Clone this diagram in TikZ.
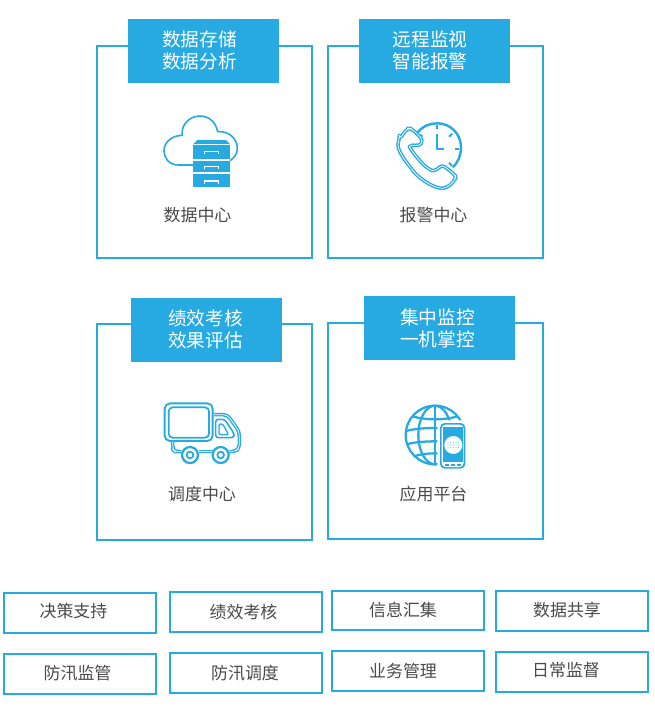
\documentclass[tikz,border=0pt]{standalone}
\usepackage{fontspec}
\usepackage{xcolor}
\newfontfamily\cjk{Noto Sans CJK SC}
\definecolor{skyblue}{HTML}{27AAE1}
\definecolor{inkgray}{HTML}{4A4A4A}
\usetikzlibrary{positioning}

\begin{document}
\begin{tikzpicture}[
  x=0.75pt, y=-0.75pt,
  frame/.style    = {rectangle, draw=skyblue, line width=1.5pt, fill=white, minimum width=161.8pt, minimum height=159.3pt},
  titlebox/.style = {rectangle, fill=skyblue, minimum width=113.25pt, minimum height=48pt},
  titletext/.style= {align=center, text=white, inner sep=0pt, font=\cjk\fontsize{14}{16.5}\selectfont},
  caption/.style  = {text=inkgray, inner sep=0pt, font=\cjk\fontsize{12.7}{15}\selectfont},
  tag/.style      = {rectangle, draw=skyblue, line width=1.5pt, fill=white, minimum width=114pt, minimum height=29.5pt},
  icon/.style     = {draw=skyblue, line width=1.5pt, line join=round},
  thinicon/.style = {draw=skyblue, line width=1pt, line join=round},
  twoline/.style  = {draw=skyblue, line width=1.05pt, double=white, double distance=0.55pt, line join=round}
]
\useasboundingbox (0,0) rectangle (654,714);
\fill[white] (0,0) rectangle (654,714);

% Frames with their title boxes
\node[frame] (store)  at (204.5,152) {};
\node[frame] (alarm)  at (435.5,152) {};
\node[frame, minimum height=162pt] (truck)  at (204.5,432) {};
\node[frame, minimum height=162pt] (app)    at (435.5,431) {};

\node[titlebox] (storehead) at (203.5,51) {};
\node[titlebox] (alarmhead) at (434.5,51) {};
\node[titlebox] (truckhead) at (206.5,330) {};
\node[titlebox] (apphead)   at (439.5,328) {};

\node[titletext] (storetext) at (199.5,50)  {数据存储\\数据分析};
\node[titletext] (alarmtext) at (430,50)    {远程监视\\智能报警};
\node[titletext] (trucktext) at (205.5,329) {绩效考核\\效果评估};
\node[titletext] (apptext)   at (437.5,328) {集中监控\\一机掌控};

\node[caption] (storecap) at (197.5,215) {数据中心};
\node[caption] (alarmcap) at (433.5,215) {报警中心};
\node[caption] (truckcap) at (202,494)   {调度中心};
\node[caption] (appcap)   at (433.5,494) {应用平台};

% Cloud and drawers
\begin{scope}[shift={(150,110)}, x=0.25pt, y=-0.25pt]
  \draw[thinicon, line width=1.2pt] (130,165) -- (85,165) .. controls (55,165) and (42,142) .. (42,122)
    .. controls (42,95) and (68,76) .. (97,76)
    .. controls (92,45) and (118,18) .. (150,18)
    .. controls (178,18) and (198,38) .. (203,65)
    .. controls (238,62) and (262,88) .. (262,115)
    .. controls (262,130) and (255,142) .. (240,152);
  \fill[skyblue] (130,102) -- (142,90) -- (228,90) -- (240,102) -- cycle;
  \fill[skyblue] (130,105) rectangle (240,147);
  \fill[skyblue] (130,152) rectangle (240,187);
  \fill[skyblue] (130,193) rectangle (240,232);
  \draw[white, line width=1.1pt] (163,133) -- (163,124) -- (205,124) -- (205,133);
  \draw[white, line width=1.1pt] (163,178) -- (163,170) -- (205,170) -- (205,178);
  \draw[white, line width=1.1pt] (163,222) -- (163,213) -- (205,213) -- (205,222);
\end{scope}

% Clock and handset
\begin{scope}[shift={(380,110)}, x=0.25pt, y=-0.25pt]
  \draw[icon, line width=1.8pt] (112,68) .. controls (130,47) and (150,40) .. (172,40)
    .. controls (212,40) and (243,72) .. (243,112)
    .. controls (243,138) and (232,160) .. (218,172);
  \draw[icon] (172,72) -- (172,118) -- (192,118);
  \draw[icon] (172,44) -- (172,58);
  \draw[icon] (225,118) -- (238,118);
  \draw[icon] (207,80) -- (216,71);
  \draw[icon] (207,158) -- (216,167);
  \draw[icon] (118,75) -- (128,78);
  \draw[twoline, rounded corners=3pt]
    (58,88) -- (82,55) -- (94,55) -- (130,90) -- (118,110) -- (97,102)
    .. controls (88,110) and (100,130) .. (118,150)
    .. controls (135,170) and (155,183) .. (172,180)
    -- (185,163) -- (226,195) -- (228,207) -- (202,233)
    .. controls (165,238) and (115,205) .. (90,170)
    .. controls (70,145) and (50,115) .. cycle;
\end{scope}

% Truck
\begin{scope}[shift={(150,390)}, x=0.25pt, y=-0.25pt]
  \draw[icon, line width=1.4pt, rounded corners=4pt] (44,40) rectangle (188,153);
  \draw[icon, line width=1.3pt, rounded corners=3pt] (56,52) rectangle (177,143);
  \draw[twoline, rounded corners=3pt] (190,74) -- (232,74) -- (268,125) -- (268,175) -- (255,185) -- (238,185);
  \draw[twoline] (188,185) -- (146,185);
  \draw[twoline, rounded corners=3pt] (68,155) -- (68,178) -- (76,185) -- (94,185);
  \draw[icon, line width=1.2pt, rounded corners=2pt] (197,88) -- (224,88) -- (252,130) -- (252,143) -- (197,143) -- cycle;
  \draw[thinicon, rounded corners=1pt] (207,102) -- (218,102) -- (236,134) -- (207,134) -- cycle;
  \draw[icon, line width=1.7pt, fill=white] (120,195) circle (24);
  \draw[icon, line width=1.3pt] (120,195) circle (10);
  \draw[icon, line width=1.7pt, fill=white] (212,195) circle (24);
  \draw[icon, line width=1.3pt] (212,195) circle (10);
\end{scope}

% Globe and phone
\begin{scope}[shift={(390,395)}, x=0.25pt, y=-0.25pt]
  \begin{scope}[line width=1.7pt, draw=skyblue]
    \draw (135,120) circle (88);
    \draw (135,120) ellipse (50 and 88);
    \draw (135,32) -- (135,208);
    \draw (68,64) .. controls (105,76) and (165,76) .. (202,64);
    \draw (48,108) .. controls (90,96) and (180,96) .. (222,108);
    \draw (50,148) .. controls (90,136) and (180,136) .. (220,148);
    \draw (72,184) .. controls (105,172) and (165,172) .. (198,184);
  \end{scope}
  \fill[white, rounded corners=4pt] (142,76) rectangle (233,228);
  \fill[skyblue, rounded corners=3.5pt] (150,84) rectangle (226,221);
  \fill[white, rounded corners=3pt] (155,89) rectangle (221,216);
  \fill[skyblue] (158,95) rectangle (218,200);
  \fill[white] (190,150) circle (27);
  \foreach \px in {174,182,190,198,206}
    \foreach \py in {142,150,158}
      \fill[skyblue!60] (\px,\py) circle (1.8);
  \fill[skyblue] (166,206) rectangle (178,212);
  \fill[skyblue] (184,206) rectangle (194,212);
  \fill[skyblue] (200,206) rectangle (212,212);
\end{scope}

% Bottom tags
\node[tag] (tagA) at (79.5,613)  {};
\node[tag] (tagB) at (245.5,612) {};
\node[tag] (tagC) at (407.5,610.5) {};
\node[tag] (tagD) at (571.5,611) {};
\node[tag] (tagE) at (79.5,674)  {};
\node[tag] (tagF) at (245.5,673) {};
\node[tag] (tagG) at (407.5,671) {};
\node[tag] (tagH) at (571.5,672) {};

\node[caption] (textA) at (73.5,611)  {决策支持};
\node[caption] (textB) at (243.5,612) {绩效考核};
\node[caption] (textC) at (403,609.5) {信息汇集};
\node[caption] (textD) at (567,610.5) {数据共享};
\node[caption] (textE) at (77.5,673)  {防汛监管};
\node[caption] (textF) at (245,673)   {防汛调度};
\node[caption] (textG) at (403,671.5) {业务管理};
\node[caption] (textH) at (566,670.5) {日常监督};

\end{tikzpicture}
\end{document}
